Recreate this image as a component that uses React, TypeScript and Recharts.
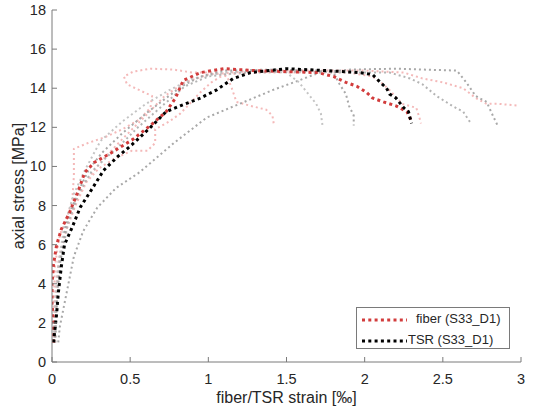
import React from 'react';
import { LineChart, Line, XAxis, YAxis } from 'recharts';

type Pt = { x: number; y: number };
const pts = (a: number[][]): Pt[] => a.map(([x, y]) => ({ x, y }));

const xTicks = [0, 0.5, 1, 1.5, 2, 2.5, 3];
const yTicks = [0, 2, 4, 6, 8, 10, 12, 14, 16, 18];

// highlighted specimen
const fiberS33 = pts([
  [0.01, 1.0], [0.01, 2], [0.0, 3], [0.0, 4], [0.01, 5], [0.03, 6], [0.06, 6.8], [0.11, 7.6],
  [0.17, 8.8], [0.21, 9.7], [0.27, 10.2], [0.38, 10.7], [0.52, 11.4], [0.63, 12.1], [0.73, 12.8],
  [0.79, 13.5], [0.84, 14.4], [0.95, 14.8], [1.1, 15.0], [1.3, 14.9], [1.5, 14.85], [1.7, 14.8],
  [1.8, 14.6], [1.88, 14.3], [1.95, 14.1], [2.01, 13.8], [2.05, 13.5], [2.12, 13.3], [2.2, 13.1],
  [2.27, 12.8], [2.3, 12.3],
]);
const tsrS33 = pts([
  [0.01, 1.0], [0.03, 2.5], [0.04, 3.5], [0.06, 4.9], [0.08, 6.0], [0.13, 6.9], [0.18, 7.9],
  [0.26, 8.9], [0.33, 9.8], [0.42, 10.5], [0.51, 11.1], [0.63, 12.0], [0.73, 12.8], [0.82, 13.1],
  [0.95, 13.5], [1.05, 13.9], [1.16, 14.5], [1.27, 14.8], [1.5, 15.0], [1.75, 14.9], [1.97, 14.8],
  [2.05, 14.7], [2.1, 14.3], [2.14, 14.0], [2.16, 13.7], [2.2, 13.5], [2.25, 13.0], [2.28, 12.8],
  [2.29, 12.5], [2.3, 12.2],
]);

// other specimens (faded)
const fiberA = pts([
  [0.02, 1.0], [0.01, 3], [0.02, 5], [0.05, 6.5], [0.1, 7.5], [0.13, 8.3], [0.14, 9.5], [0.14, 10.9],
  [0.23, 11.2], [0.34, 11.5], [0.45, 11.9], [0.56, 12.4], [0.63, 13.0], [0.64, 13.6], [0.56, 13.9],
  [0.48, 14.2], [0.46, 14.6], [0.52, 14.85], [0.63, 15.0], [0.78, 14.95], [0.9, 14.8], [1.05, 14.8],
  [1.12, 14.6], [1.15, 14.0], [1.18, 13.3], [1.27, 13.1], [1.37, 12.9], [1.41, 12.6], [1.42, 12.1],
]);
const fiberB = pts([
  [0.02, 1.0], [0.02, 3], [0.04, 5], [0.08, 6.5], [0.15, 8], [0.22, 9.2], [0.3, 9.9], [0.4, 10.4],
  [0.51, 10.8], [0.61, 10.8], [0.66, 11.2], [0.66, 11.9], [0.75, 12.3], [0.82, 12.7], [0.88, 13.2],
  [0.95, 13.8], [1.02, 14.3], [1.1, 14.7], [1.3, 14.8], [1.6, 14.8], [1.9, 14.8], [2.05, 14.6],
  [2.12, 14.2], [2.16, 13.9], [2.24, 13.2], [2.33, 13.0], [2.35, 12.5], [2.36, 12.2],
]);
const fiberC = pts([
  [0.01, 1.0], [0.02, 3], [0.04, 5], [0.08, 6.5], [0.14, 8], [0.22, 9.3], [0.32, 10.3], [0.45, 11.4],
  [0.6, 12.6], [0.72, 13.6], [0.85, 14.3], [1.0, 14.7], [1.3, 14.9], [1.7, 14.9], [2.0, 14.9],
  [2.25, 14.8], [2.37, 14.5], [2.5, 14.3], [2.63, 14.0], [2.71, 13.5], [2.78, 13.2], [2.86, 13.2],
  [2.99, 13.1],
]);
const tsrA = pts([
  [0.04, 1.0], [0.05, 1.8], [0.1, 3.8], [0.14, 5.4], [0.2, 6.7], [0.29, 7.9], [0.41, 8.9], [0.56, 9.7],
  [0.78, 11.2], [0.99, 12.5], [1.2, 13.2], [1.41, 13.9], [1.58, 14.4], [1.71, 14.8], [1.9, 14.95],
  [2.2, 15.0], [2.59, 14.9], [2.65, 14.3], [2.71, 13.6], [2.78, 13.3], [2.82, 12.6], [2.85, 12.1],
]);
const tsrB = pts([
  [0.02, 1.0], [0.03, 3], [0.05, 5], [0.1, 7], [0.17, 8.6], [0.25, 9.7], [0.34, 10.4], [0.45, 11.2],
  [0.55, 12.0], [0.72, 13.2], [0.85, 14.1], [1.0, 14.6], [1.2, 14.8], [1.6, 14.85], [2.0, 14.8],
  [2.16, 14.8], [2.29, 14.5], [2.37, 14.2], [2.46, 13.6], [2.56, 13.1], [2.63, 12.8], [2.68, 12.2],
]);
const tsrC = pts([
  [0.01, 1.0], [0.02, 3], [0.04, 5], [0.08, 7], [0.14, 8.6], [0.21, 9.8], [0.31, 11.3], [0.45, 12.3],
  [0.6, 13.2], [0.75, 13.9], [0.9, 14.5], [1.1, 14.8], [1.3, 14.9], [1.5, 14.8], [1.58, 14.3],
  [1.65, 13.6], [1.69, 13.2], [1.72, 12.7], [1.73, 12.1],
]);
const tsrD = pts([
  [0.02, 1.0], [0.03, 3], [0.05, 5], [0.09, 7], [0.16, 8.6], [0.24, 9.9], [0.32, 10.7], [0.45, 11.7],
  [0.6, 12.7], [0.73, 13.5], [0.83, 14.1], [0.95, 14.6], [1.1, 14.9], [1.4, 14.95], [1.7, 14.9],
  [1.8, 14.8], [1.84, 14.2], [1.88, 13.7], [1.9, 13.1], [1.93, 12.6], [1.93, 12.1],
]);

const RED = '#d23c3c';
const PINK = '#f4b9b9';
const AXIS = '#7a7a7a';
const TXT = '#262626';
const FONT = '"Liberation Sans", Arial, sans-serif';

const BottomTick = (p: any) => (
  <g>
    <line x1={p.x} x2={p.x} y1={p.y} y2={p.y - 5} stroke={AXIS} />
    <text x={p.x} y={p.y + 22} textAnchor="middle" fontSize={14.5} fill={TXT} fontFamily={FONT}>
      {p.payload.value}
    </text>
  </g>
);
const LeftTick = (p: any) => (
  <g>
    <line x1={p.x} x2={p.x + 5} y1={p.y} y2={p.y} stroke={AXIS} />
    <text x={p.x - 6} y={p.y + 5} textAnchor="end" fontSize={14.5} fill={TXT} fontFamily={FONT}>
      {p.payload.value}
    </text>
  </g>
);
const TopTick = (p: any) => <line x1={p.x} x2={p.x} y1={p.y} y2={p.y + 5} stroke={AXIS} />;
const RightTick = (p: any) => <line x1={p.x} x2={p.x - 5} y1={p.y} y2={p.y} stroke={AXIS} />;

const faded = [
  { data: fiberA, color: PINK },
  { data: fiberB, color: PINK },
  { data: fiberC, color: PINK },
  { data: tsrA, color: '#a8a8a8' },
  { data: tsrB, color: '#b4b4b4' },
  { data: tsrC, color: '#c4c4c4' },
  { data: tsrD, color: '#a8a8a8' },
];

export default function App() {
  return (
    <div style={{ position: 'absolute', left: 0, top: 0, width: 533, height: 416, background: '#fff' }}>
      <LineChart width={533} height={416} margin={{ top: 10, right: 12, left: 0, bottom: 0 }}>
        <XAxis
          xAxisId="b"
          dataKey="x"
          type="number"
          domain={[0, 3]}
          ticks={xTicks}
          height={54}
          tickSize={0}
          tickMargin={0}
          tickLine={false}
          tick={BottomTick}
          axisLine={{ stroke: AXIS }}
          allowDataOverflow
          label={{ value: 'fiber/TSR strain [‰]', position: 'insideBottom', offset: 13, fontSize: 16, fill: TXT, fontFamily: FONT }}
        />
        <XAxis
          xAxisId="t"
          orientation="top"
          type="number"
          domain={[0, 3]}
          ticks={xTicks}
          height={0}
          tickSize={0}
          tickMargin={0}
          tickLine={false}
          tick={TopTick}
          axisLine={{ stroke: AXIS }}
          allowDataOverflow
        />
        <YAxis
          yAxisId="l"
          type="number"
          domain={[0, 18]}
          ticks={yTicks}
          width={52}
          tickSize={0}
          tickMargin={0}
          tickLine={false}
          tick={LeftTick}
          axisLine={{ stroke: AXIS }}
          allowDataOverflow
          label={{ value: 'axial stress [MPa]', angle: -90, position: 'insideLeft', offset: 18, fontSize: 16, fill: TXT, fontFamily: FONT, style: { textAnchor: 'middle' } }}
        />
        <YAxis
          yAxisId="r"
          orientation="right"
          type="number"
          domain={[0, 18]}
          ticks={yTicks}
          width={0}
          tickSize={0}
          tickMargin={0}
          tickLine={false}
          tick={RightTick}
          axisLine={{ stroke: AXIS }}
          allowDataOverflow
        />
        {faded.map((s, i) => (
          <Line
            key={i}
            xAxisId="b"
            yAxisId="l"
            data={s.data}
            dataKey="y"
            type="linear"
            stroke={s.color}
            strokeWidth={2}
            strokeDasharray="2 3"
            dot={false}
            isAnimationActive={false}
          />
        ))}
        <Line xAxisId="b" yAxisId="l" data={fiberS33} dataKey="y" type="linear" stroke={RED} strokeWidth={3}
          strokeDasharray="3 3.3" dot={false} isAnimationActive={false} />
        <Line xAxisId="b" yAxisId="l" data={tsrS33} dataKey="y" type="linear" stroke="#000" strokeWidth={3}
          strokeDasharray="3 3.3" dot={false} isAnimationActive={false} />
      </LineChart>

      <div
        style={{
          position: 'absolute', left: 356, top: 307, width: 152, height: 40,
          border: `1px solid ${AXIS}`, background: '#fff', fontFamily: FONT, fontSize: 13, color: TXT,
        }}
      >
        <svg width={60} height={40} style={{ position: 'absolute', left: 0, top: 0 }}>
          <line x1={5} x2={50} y1={12} y2={12} stroke={RED} strokeWidth={3} strokeDasharray="3 3.3" />
          <line x1={5} x2={50} y1={33} y2={33} stroke="#000" strokeWidth={3} strokeDasharray="3 3.3" />
        </svg>
        <div style={{ position: 'absolute', left: 59, top: 3, whiteSpace: 'nowrap' }}>fiber (S33_D1)</div>
        <div style={{ position: 'absolute', left: 51, top: 24, whiteSpace: 'nowrap' }}>TSR (S33_D1)</div>
      </div>
    </div>
  );
}
